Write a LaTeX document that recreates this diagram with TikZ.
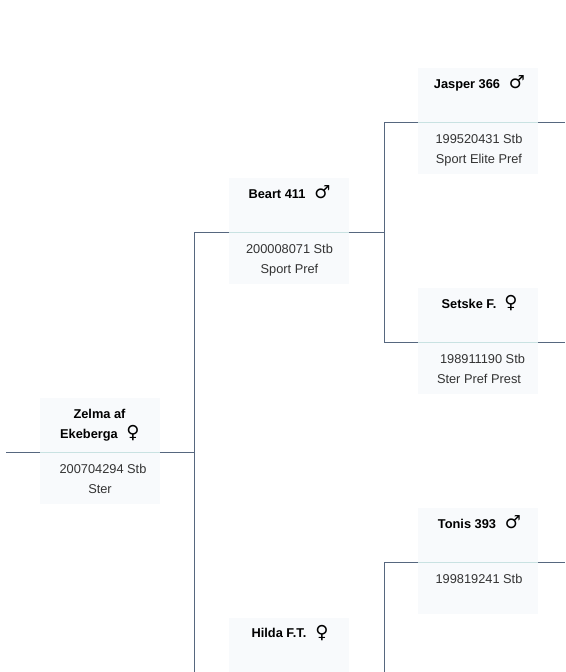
\documentclass[tikz,border=0pt]{standalone}
\usepackage{fontspec}
\setmainfont{Liberation Sans}
\newfontfamily\symfont{DejaVu Sans}
\definecolor{cardbg}{HTML}{F8FAFC}
\definecolor{divcol}{HTML}{C9E2E2}
\definecolor{linecol}{HTML}{56677F}
\definecolor{bodytxt}{HTML}{333333}
\newcommand{\card}[4]{%
  % #1 name, #2 left x, #3 divider y, #4 header height
  \node[cardhead,minimum height=#4*0.75pt] (#1h) at (#2+60,#3-#4/2) {};
  \node[cardbody] (#1b) at (#2+60,#3+25.5) {};
  \draw[divider] (#1h.south west) -- (#1h.south east);
}
\tikzset{
  x=0.75pt,y=-0.75pt,
  cardhead/.style={fill=cardbg,draw=none,minimum width=90pt,inner sep=0pt,outer sep=0pt},
  cardbody/.style={fill=cardbg,draw=none,minimum width=90pt,minimum height=38.25pt,inner sep=0pt,outer sep=0pt},
  divider/.style={draw=divcol,line width=0.75pt},
  conn/.style={draw=linecol,line width=0.75pt},
  nametxt/.style={font=\fontsize{9.6pt}{15pt}\selectfont\bfseries,text=black,inner sep=0pt,anchor=base},
  infotxt/.style={font=\fontsize{9.6pt}{15pt}\selectfont,text=bodytxt,inner sep=0pt,anchor=base},
  sym/.style={font=\fontsize{13.5pt}{15pt}\symfont,text=black,inner sep=0pt,anchor=base},
}
\begin{document}
\begin{tikzpicture}
\useasboundingbox (0,0) rectangle (565,672);
\begin{scope}
\clip (0,0) rectangle (565,672);
\card{a}{40}{452.5}{54.5}
\card{b}{229}{232.5}{54.5}
\card{c}{418}{122.5}{54.5}
\card{d}{418}{342.5}{54.5}
\card{e}{418}{562.5}{54.5}
\card{f}{229}{672.5}{54.5}
\coordinate (startL) at (6,452.5);
\coordinate (endC) at (565,122.5);
\coordinate (endD) at (565,342.5);
\coordinate (endE) at (565,562.5);
\coordinate (junA) at (194.5,452.5);
\coordinate (junB) at (384.5,232.5);
\coordinate (junE) at (384.5,672.5);
\draw[conn] (startL) -- (ah.south west);
\draw[conn] (ah.south east) -- (junA);
\draw[conn] (bh.south west) -| (junA) |- (fh.south west);
\draw[conn] (bh.south east) -- (junB);
\draw[conn] (ch.south west) -| (junB) |- (dh.south west);
\draw[conn] (eh.south west) -| (junE);
\draw[conn] (ch.south east) -- (endC);
\draw[conn] (dh.south east) -- (endD);
\draw[conn] (eh.south east) -- (endE);
\end{scope}
% card A
\node[nametxt] (an1) at (99.5,418) {Zelma af};
\node[nametxt] (an2) at (89,438) {Ekeberga};
\node[sym] (as) at (133,438) {♀};
\node[infotxt] (ai1) at (103,473) {200704294 Stb};
\node[infotxt] (ai2) at (100,493) {Ster};
% card B
\node[nametxt] (bn) at (277,198) {Beart 411};
\node[sym] (bs) at (322.5,198) {♂};
\node[infotxt] (bi1) at (289.5,253) {200008071 Stb};
\node[infotxt] (bi2) at (289.5,273) {Sport Pref};
% card C
\node[nametxt] (cn) at (467,88) {Jasper 366};
\node[sym] (cs) at (517,88) {♂};
\node[infotxt] (ci1) at (479,143) {199520431 Stb};
\node[infotxt] (ci2) at (479,163) {Sport Elite Pref};
% card D
\node[nametxt] (dn) at (469,308) {Setske F.};
\node[sym] (ds) at (511,308) {♀};
\node[infotxt] (di1) at (482.5,363) {198911190 Stb};
\node[infotxt] (di2) at (479,383) {Ster Pref Prest};
% card E
\node[nametxt] (en) at (467,528) {Tonis 393};
\node[sym] (es) at (513,528) {♂};
\node[infotxt] (ei1) at (479,583) {199819241 Stb};
% card F
\node[nametxt] (fn) at (279,637.5) {Hilda F.T.};
\node[sym] (fs) at (322,638) {♀};
\end{tikzpicture}
\end{document}
